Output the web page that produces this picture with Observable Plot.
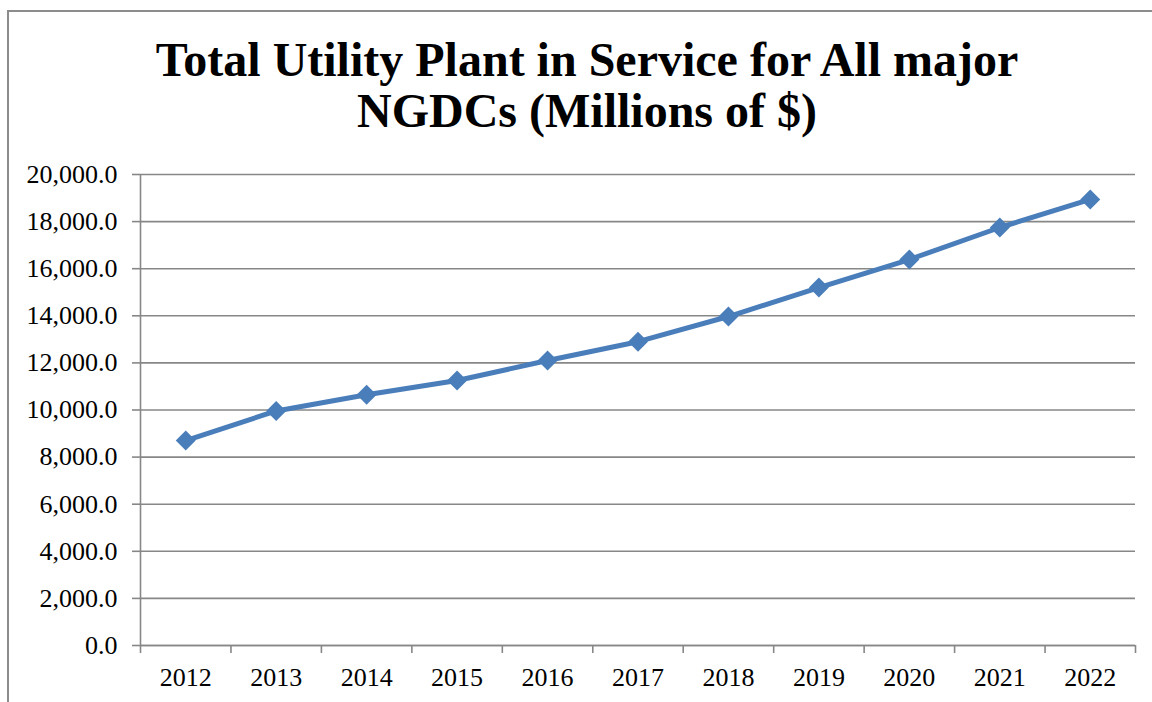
<!DOCTYPE html>
<html>
<head>
<meta charset="utf-8">
<script src="https://cdn.jsdelivr.net/npm/d3@7"></script>
<script src="https://cdn.jsdelivr.net/npm/@observablehq/plot@0.6"></script>
<style>
  html, body { margin: 0; padding: 0; background: #fff; }
  #wrap { position: relative; width: 1152px; height: 702px; overflow: hidden; }
  #frame {
    position: absolute; left: 7px; top: 10px; width: 1200px; height: 760px;
    border-left: 2px solid #8c8c8c; border-top: 2px solid #8c8c8c;
    box-sizing: border-box;
  }
  #title {
    position: absolute; left: 0; top: 34px; width: 1174px; text-align: center;
    font-family: "Liberation Serif", "Times New Roman", serif; font-weight: bold;
    font-size: 48px; line-height: 51px; color: #000;
  }
  #chart { position: absolute; left: 0; top: 0; }
</style>
</head>
<body>
<div id="wrap">
  <div id="frame"></div>
  <div id="chart"></div>
  <div id="title">Total Utility Plant in Service for All major<br>NGDCs (Millions of $)</div>
</div>
<script>
// Total utility plant in service, all major NGDCs, millions of dollars
const years = [2012, 2013, 2014, 2015, 2016, 2017, 2018, 2019, 2020, 2021, 2022];
const plantValues = [8700, 9960, 10650, 11250, 12100, 12900, 13970, 15200, 16390, 17750, 18940];
const yTicks = [0, 2000, 4000, 6000, 8000, 10000, 12000, 14000, 16000, 18000, 20000];

const data = years.map((year, i) => ({year, value: plantValues[i]}));
// category boundaries for the x-axis tick marks
const boundaries = [years[0] - 0.5, ...years.map(y => y + 0.5)];

const gray = "#878787";
const blue = "#4a7ebb";

const chart = Plot.plot({
  width: 1152,
  height: 702,
  marginTop: 174,
  marginBottom: 57,
  marginLeft: 140,
  marginRight: 17,
  style: {fontFamily: "'Liberation Serif', 'Times New Roman', serif", fontSize: "26px", color: "#000", background: "transparent"},
  x: {type: "linear", domain: [years[0] - 0.5, years[years.length - 1] + 0.5]},
  y: {domain: [0, 20000]},
  marks: [
    Plot.gridY(yTicks, {stroke: gray, strokeOpacity: 1, strokeWidth: 1.6}),
    Plot.axisY(yTicks, {
      tickFormat: d3.format(",.1f"), tickSize: 8, tickPadding: 15,
      stroke: gray, strokeWidth: 1.6, fill: "#000", label: null
    }),
    Plot.axisX(boundaries, {tickSize: 8, tickFormat: () => "", stroke: gray, strokeWidth: 1.6, label: null}),
    Plot.axisX(years, {tickSize: 0, tickPadding: 22, tickFormat: d => String(d), fill: "#000", label: null}),
    Plot.ruleX([years[0] - 0.5], {stroke: gray, strokeWidth: 1.6}),
    Plot.ruleY([0], {stroke: gray, strokeWidth: 1.6}),
    Plot.line(data, {x: "year", y: "value", stroke: blue, strokeWidth: 5, strokeLinejoin: "round"}),
    Plot.dot(data, {x: "year", y: "value", symbol: "diamond2", r: 9, fill: blue, stroke: "none"})
  ]
});
document.getElementById("chart").appendChild(chart);
</script>
</body>
</html>
